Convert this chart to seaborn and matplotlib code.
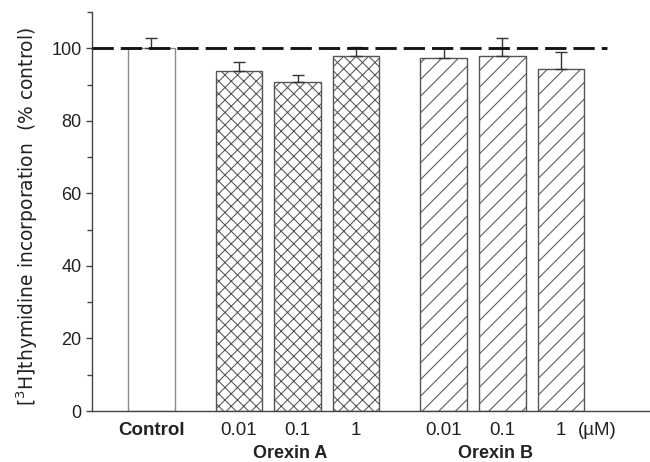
import numpy as np
import pandas as pd
import matplotlib
matplotlib.use("Agg")
import matplotlib.pyplot as plt
import matplotlib.hatch as mhatch
import matplotlib.transforms as mtransforms
import seaborn as sns

# ---------------- data ----------------
groups = ["Control", "Orexin A", "Orexin A", "Orexin A", "Orexin B", "Orexin B", "Orexin B"]
dose_labels = ["Control", "0.01", "0.1", "1", "0.01", "0.1", "1"]
means = [100.0, 93.8, 90.8, 97.9, 97.3, 97.8, 94.3]
err_up = [2.7, 2.5, 1.8, 2.5, 2.7, 5.1, 4.7]
yticks = [0, 20, 40, 60, 80, 100]
reference_level = 100
ylabel = "[$^{3}$H]thymidine incorporation  (% control)"
unit_label = "(\u00b5M)"

# ---------------- hatch density tweak (cross-hatch denser) ----------------
class _NE(mhatch.NorthEastHatch):
    def __init__(self, hatch, density):
        self.num_lines = int(hatch.count('/') * density
                             + (hatch.count('x') + hatch.count('X')) * 16)
        self.num_vertices = (self.num_lines + 1) * 2 if self.num_lines else 0


class _SE(mhatch.SouthEastHatch):
    def __init__(self, hatch, density):
        self.num_lines = int(hatch.count('\\') * density
                             + (hatch.count('x') + hatch.count('X')) * 16)
        self.num_vertices = (self.num_lines + 1) * 2 if self.num_lines else 0


mhatch._hatch_types = [_NE if t is mhatch.NorthEastHatch else
                       _SE if t is mhatch.SouthEastHatch else t
                       for t in mhatch._hatch_types]

# ---------------- style ----------------
sns.set_style("ticks")
plt.rcParams["font.family"] = ["Liberation Sans", "DejaVu Sans"]
plt.rcParams["mathtext.default"] = "regular"
plt.rcParams["hatch.linewidth"] = 0.75
plt.rcParams["hatch.color"] = "#333333"

# ---------------- layout positions ----------------
pos = []
x = 0.0
for i, g in enumerate(groups):
    if i > 0:
        x += 1.0 if g == groups[i - 1] else 1.5
    pos.append(x)

df = pd.DataFrame({"group": groups, "dose": dose_labels, "mean": means,
                   "err": err_up, "x": pos})

fig = plt.figure(figsize=(6.5, 4.62), dpi=100)
ax = fig.add_axes([92 / 650, 1 - 411 / 462, 1 - 92 / 650, (411 - 12) / 462])

sns.barplot(data=df, x="x", y="mean", native_scale=True, orient="x",
            width=0.8, color="white", saturation=1, edgecolor="#555555",
            linewidth=1.0, errorbar=None, ax=ax, zorder=2)

for patch, g in zip(ax.patches, groups):
    if g == "Orexin A":
        patch.set_hatch("x")
    elif g == "Orexin B":
        patch.set_hatch("//")
    else:
        patch.set_edgecolor("#8a8a8a")

ax.errorbar(df["x"], df["mean"], yerr=[np.zeros(len(df)), df["err"]],
            fmt="none", ecolor="#333333", elinewidth=1.0, capsize=4,
            capthick=1.0, zorder=3)

xl = -1.01
ax.plot([xl, pos[-1] + 0.78], [reference_level, reference_level],
        ls=(0, (7.3, 2.4)), lw=2.1, color="#151515", zorder=5,
        solid_capstyle="butt", dash_capstyle="butt")

ax.set_xlim(xl, 8.52)
ax.set_ylim(0, 110)

ax.set_yticks(yticks)
ax.set_yticklabels([str(t) for t in yticks])
ax.set_yticks([t + 10 for t in yticks], minor=True)
ax.tick_params(axis="y", which="major", length=4.5, width=1.0, color="#444444",
               labelsize=13, pad=3, labelcolor="#222222")
ax.tick_params(axis="y", which="minor", length=3.5, width=1.0, color="#444444")

ax.set_xticks(pos)
ax.set_xticklabels(dose_labels)
ax.tick_params(axis="x", length=0, pad=8, labelsize=13.5, labelcolor="#222222")
ax.get_xticklabels()[0].set_fontweight("bold")

for side in ["top", "right"]:
    ax.spines[side].set_visible(False)
for side in ["left", "bottom"]:
    ax.spines[side].set_color("#444444")
    ax.spines[side].set_linewidth(1.0)

ax.set_xlabel("")
ax.set_ylabel("")

# unit label next to last tick
trans_tick = mtransforms.offset_copy(ax.get_xaxis_transform(), fig=fig,
                                     y=-8, units="points")
ax.text(pos[-1] + 0.62, 0, unit_label, transform=trans_tick, ha="center",
        va="top", fontsize=13.5, color="#222222")

# group labels
trans_grp = mtransforms.blended_transform_factory(ax.transData, fig.transFigure)
for g in ["Orexin A", "Orexin B"]:
    gx = np.mean([p for p, gg in zip(pos, groups) if gg == g]) - 0.12
    ax.text(gx, 1 - 454 / 462, g, transform=trans_grp, ha="center",
            va="center", fontsize=13, fontweight="bold", color="#222222")

fig.text(27 / 650, 1 - 216 / 462, ylabel, rotation=90, ha="center",
         va="center", fontsize=13.5, family=["DejaVu Sans"], color="#222222")

fig.savefig("out.png", dpi=100)
